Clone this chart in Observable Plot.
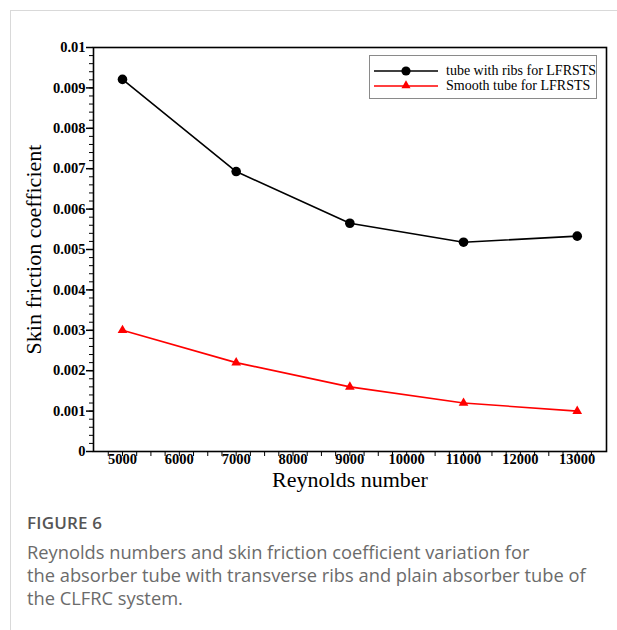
<!DOCTYPE html>
<html>
<head>
<meta charset="utf-8">
<script src="https://cdn.jsdelivr.net/npm/d3@7"></script>
<script src="https://cdn.jsdelivr.net/npm/@observablehq/plot@0.6"></script>
<style>
  html, body { margin: 0; padding: 0; background: #fff; }
  #page { position: relative; width: 617px; height: 630px; overflow: hidden; }
  #card { position: absolute; left: 10px; top: 10px; width: 620px; height: 640px;
          border-left: 1px solid #d9d9d9; border-top: 1px solid #d9d9d9; }
  #chart { position: absolute; left: 0; top: 0; }
  #legend { position: absolute; left: 369px; top: 55px; width: 228px; height: 44px;
            border: 1.5px solid #8a8a8a; background: #fff; box-sizing: border-box;
            font-family: "Liberation Serif", "Times New Roman", serif; font-size: 14px; color: #000; }
  .lrow { position: absolute; left: 0; height: 16px; }
  .lrow span { position: absolute; left: 76px; white-space: nowrap; line-height: 16px; top: 0; }
  #caption { position: absolute; left: 27px; top: 508px; font-family: "Open Sans", "Noto Sans", sans-serif; color: #6b6b6b; }
  #caption .fig { font-size: 17px; font-weight: 600; color: #555; letter-spacing: 0.2px; line-height: 30px; }
  #caption .txt { font-size: 18.3px; line-height: 23px; font-weight: 400; margin-top: 2px; }
</style>
</head>
<body>
<div id="page">
  <div id="card"></div>
  <div id="chart"></div>
  <div id="legend"></div>
  <div id="caption">
    <div class="fig">FIGURE 6</div>
    <div class="txt">Reynolds numbers and skin friction coefficient variation for<br>the absorber tube with transverse ribs and plain absorber tube of<br>the CLFRC system.</div>
  </div>
</div>
<script>
// ---- data ----
const reynolds = [5000, 7000, 9000, 11000, 13000];
const ribbedCf = [0.00921, 0.00693, 0.00565, 0.00518, 0.00533];
const smoothCf = [0.0030, 0.0022, 0.0016, 0.0012, 0.0010];
const seriesNames = ["tube with ribs for LFRSTS", "Smooth tube for LFRSTS"];
const xTickLabels = [5000, 6000, 7000, 8000, 9000, 10000, 11000, 12000, 13000];
const yTickLabels = [0, 0.001, 0.002, 0.003, 0.004, 0.005, 0.006, 0.007, 0.008, 0.009, 0.01];
const xTitle = "Reynolds number";
const yTitle = "Skin friction coefficient";

const ribbed = reynolds.map((r, i) => ({re: r, cf: ribbedCf[i]}));
const smooth = reynolds.map((r, i) => ({re: r, cf: smoothCf[i]}));

const xMinor = d3.range(4750, 13300, 250);
const yMinor = d3.range(0, 51).map(i => i * 0.0002);

const serif = "'Liberation Serif', 'Times New Roman', serif";

const chart = Plot.plot({
  width: 617,
  height: 490,
  marginLeft: 93,
  marginRight: 11,
  marginTop: 47,
  marginBottom: 39,
  style: {fontFamily: serif, background: "transparent", overflow: "visible"},
  x: {domain: [4490, 13515]},
  y: {domain: [0, 0.01]},
  marks: [
    Plot.axisX(xMinor, {tickSize: 5, tickFormat: () => "", strokeWidth: 1, label: null}),
    Plot.axisX(xTickLabels, {tickSize: 0, tickPadding: 2, tickFormat: d => String(d), fontSize: 14.5, fontWeight: "bold", label: null}),
    Plot.axisY(yMinor, {tickSize: 4, tickFormat: () => "", strokeWidth: 1, label: null}),
    Plot.axisY(yTickLabels, {tickSize: 7, tickPadding: 1, tickFormat: d => String(d), fontSize: 14.5, fontWeight: "bold", strokeWidth: 1.5, label: null}),
    Plot.frame({stroke: "#000", strokeWidth: 1.6}),
    Plot.text([xTitle], {frameAnchor: "bottom", lineAnchor: "middle", textAnchor: "middle", dy: 28, text: d => d, fontSize: 22, fontFamily: serif}),
    Plot.text([yTitle], {frameAnchor: "left", lineAnchor: "middle", textAnchor: "middle", dx: -60, rotate: -90, text: d => d, fontSize: 22, fontFamily: serif}),
    Plot.line(ribbed, {x: "re", y: "cf", stroke: "#000", strokeWidth: 1.6}),
    Plot.dot(ribbed, {x: "re", y: "cf", r: 4.8, fill: "#000", stroke: "none"}),
    Plot.line(smooth, {x: "re", y: "cf", stroke: "#ff0000", strokeWidth: 1.6}),
    Plot.dot(smooth, {x: "re", y: "cf", symbol: "triangle", r: 3.6, fill: "#ff0000", stroke: "none"})
  ]
});
document.getElementById("chart").appendChild(chart);

// ---- legend ----
const legend = document.getElementById("legend");
const legendItems = [
  {name: seriesNames[0], color: "#000", symbol: "circle", cy: 15},
  {name: seriesNames[1], color: "#ff0000", symbol: "triangle", cy: 30}
];
legendItems.forEach(item => {
  const row = document.createElement("div");
  row.className = "lrow";
  row.style.top = (item.cy - 8) + "px";
  const sw = d3.create("svg").attr("width", 70).attr("height", 16).style("position", "absolute").style("left", "2px").style("top", "0px");
  sw.append("line").attr("x1", 2).attr("x2", 66).attr("y1", 8).attr("y2", 8).attr("stroke", item.color).attr("stroke-width", 1.6);
  if (item.symbol === "circle") {
    sw.append("circle").attr("cx", 34).attr("cy", 8).attr("r", 4.6).attr("fill", item.color);
  } else {
    sw.append("path").attr("d", d3.symbol(d3.symbolTriangle, 36)()).attr("transform", "translate(34,7.5)").attr("fill", item.color);
  }
  row.appendChild(sw.node());
  const label = document.createElement("span");
  label.textContent = item.name;
  row.appendChild(label);
  legend.appendChild(row);
});
</script>
</body>
</html>
